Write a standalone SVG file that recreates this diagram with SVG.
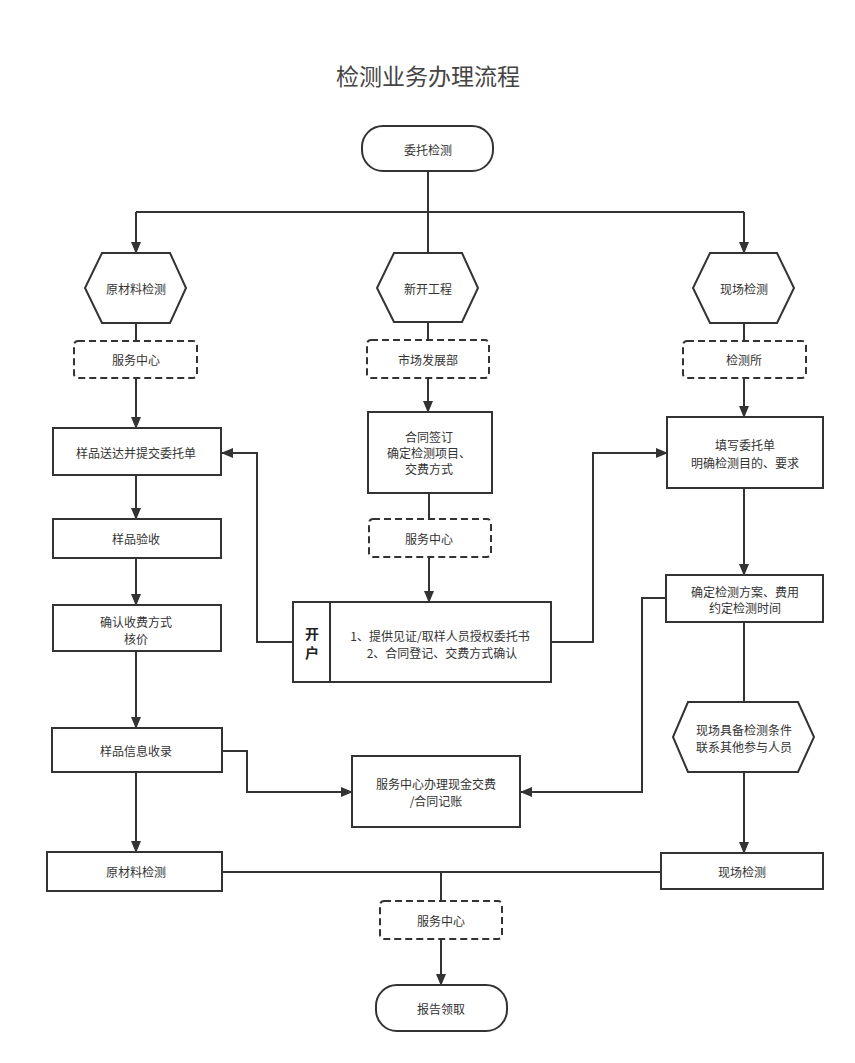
<svg xmlns="http://www.w3.org/2000/svg" width="855" height="1063" viewBox="0 0 855 1063">
<defs>
<marker id="ah" markerUnits="userSpaceOnUse" markerWidth="12" markerHeight="12" viewBox="0 0 12 12" refX="11" refY="6" orient="auto">
<path d="M0,1 L12,6 L0,11 Z" fill="#333"/>
</marker>
</defs>
<style>
.s{fill:#fff;stroke:#333;stroke-width:2}
.d{fill:#fff;stroke:#333;stroke-width:2;stroke-dasharray:7,4}
.t{font-family:"Noto Sans CJK SC","Liberation Sans",sans-serif;font-size:12px;fill:#333;text-anchor:middle;dominant-baseline:central}
.c{fill:none;stroke:#333;stroke-width:2}
.a{fill:none;stroke:#333;stroke-width:2;marker-end:url(#ah)}
</style>
<rect width="855" height="1063" fill="#fff"/>
<text x="428" y="75" class="t" style="font-size:23px;fill:#444">检测业务办理流程</text>

<g id="connectors">
<path class="c" d="M428,171 V253"/>
<path class="c" d="M136,212 H744"/>
<path class="a" d="M136,212 V253"/>
<path class="a" d="M744,212 V253"/>
<path class="c" d="M136,323 V341"/>
<path class="a" d="M136,378 V428"/>
<path class="c" d="M428,322 V340"/>
<path class="a" d="M428,378 V412"/>
<path class="c" d="M429,493 V519"/>
<path class="a" d="M429,557 V602"/>
<path class="c" d="M744,323 V341"/>
<path class="a" d="M744,378 V417"/>
<path class="a" d="M293,642 H257 V453 H222"/>
<path class="a" d="M551,642 H593 V453 H667"/>
<path class="a" d="M744,488 V575"/>
<path class="c" d="M744,622 V702"/>
<path class="a" d="M666,598 H642 V792 H521"/>
<path class="a" d="M744,772 V853"/>
<path class="a" d="M136,475 V519"/>
<path class="a" d="M136,558 V605"/>
<path class="a" d="M136,651 V728"/>
<path class="a" d="M136,772 V852"/>
<path class="a" d="M222,751 H247 V792 H352"/>
<path class="c" d="M222,872 H661"/>
<path class="c" d="M441,872 V901"/>
<path class="a" d="M441,939 V985"/>
</g>

<g id="n-start">
<rect class="s" x="362" y="126" width="131" height="45" rx="21"/>
<text class="t" x="428" y="149">委托检测</text>
</g>
<g id="n-hex-raw">
<polygon class="s" points="102,253 170,253 186,288 170,323 102,323 85,288"/>
<text class="t" x="136" y="288">原材料检测</text>
</g>
<g id="n-hex-new">
<polygon class="s" points="394,253 462,253 478,288 462,322 394,322 377,288"/>
<text class="t" x="428" y="288">新开工程</text>
</g>
<g id="n-hex-site">
<polygon class="s" points="710,253 777,253 794,288 777,323 710,323 693,288"/>
<text class="t" x="744" y="288">现场检测</text>
</g>
<g id="n-svc1">
<rect class="d" x="74" y="341" width="123" height="37" rx="4"/>
<text class="t" x="136" y="359">服务中心</text>
</g>
<g id="n-market">
<rect class="d" x="367" y="340" width="122" height="38" rx="4"/>
<text class="t" x="428" y="359">市场发展部</text>
</g>
<g id="n-lab">
<rect class="d" x="683" y="341" width="123" height="37" rx="4"/>
<text class="t" x="744" y="359">检测所</text>
</g>
<g id="n-contract">
<rect class="s" x="368" y="412" width="124" height="81"/>
<text class="t" x="429" y="436">合同签订</text>
<text class="t" x="429" y="452">确定检测项目、</text>
<text class="t" x="429" y="468">交费方式</text>
</g>
<g id="n-fill">
<rect class="s" x="667" y="417" width="156" height="71"/>
<text class="t" x="745" y="444">填写委托单</text>
<text class="t" x="745" y="462">明确检测目的、要求</text>
</g>
<g id="n-send">
<rect class="s" x="53" y="428" width="168" height="47"/>
<text class="t" x="136" y="452">样品送达并提交委托单</text>
</g>
<g id="n-svc2">
<rect class="d" x="369" y="519" width="122" height="38" rx="4"/>
<text class="t" x="429" y="538">服务中心</text>
</g>
<g id="n-accept">
<rect class="s" x="53" y="519" width="168" height="39"/>
<text class="t" x="136" y="538">样品验收</text>
</g>
<g id="n-confirm">
<rect class="s" x="53" y="605" width="168" height="46"/>
<text class="t" x="136" y="621">确认收费方式</text>
<text class="t" x="136" y="638">核价</text>
</g>
<g id="n-plan">
<rect class="s" x="666" y="575" width="157" height="47"/>
<text class="t" x="745" y="591">确定检测方案、费用</text>
<text class="t" x="745" y="607">约定检测时间</text>
</g>
<g id="n-open">
<rect class="s" x="293" y="602" width="258" height="80"/>
<path class="c" d="M330,602 V682"/>
<text class="t" x="312" y="633" style="font-size:14px;font-weight:bold;fill:#222">开</text>
<text class="t" x="312" y="652" style="font-size:14px;font-weight:bold;fill:#222">户</text>
<text class="t" x="440" y="635">1、提供见证/取样人员授权委托书</text>
<text class="t" x="442" y="652">2、合同登记、交费方式确认</text>
</g>
<g id="n-cond">
<polygon class="s" points="688,702 798,702 814,737 798,772 688,772 673,737"/>
<text class="t" x="744" y="729">现场具备检测条件</text>
<text class="t" x="744" y="746">联系其他参与人员</text>
</g>
<g id="n-info">
<rect class="s" x="52" y="728" width="170" height="44"/>
<text class="t" x="136" y="750">样品信息收录</text>
</g>
<g id="n-pay">
<rect class="s" x="352" y="756" width="168" height="71"/>
<text class="t" x="436" y="783">服务中心办理现金交费</text>
<text class="t" x="436" y="800">/合同记账</text>
</g>
<g id="n-raw">
<rect class="s" x="47" y="852" width="175" height="39"/>
<text class="t" x="136" y="871">原材料检测</text>
</g>
<g id="n-site">
<rect class="s" x="661" y="853" width="162" height="36"/>
<text class="t" x="742" y="871">现场检测</text>
</g>
<g id="n-svc3">
<rect class="d" x="380" y="901" width="122" height="38" rx="4"/>
<text class="t" x="441" y="920">服务中心</text>
</g>
<g id="n-end">
<rect class="s" x="376" y="985" width="131" height="46" rx="21"/>
<text class="t" x="441" y="1008">报告领取</text>
</g>
</svg>
